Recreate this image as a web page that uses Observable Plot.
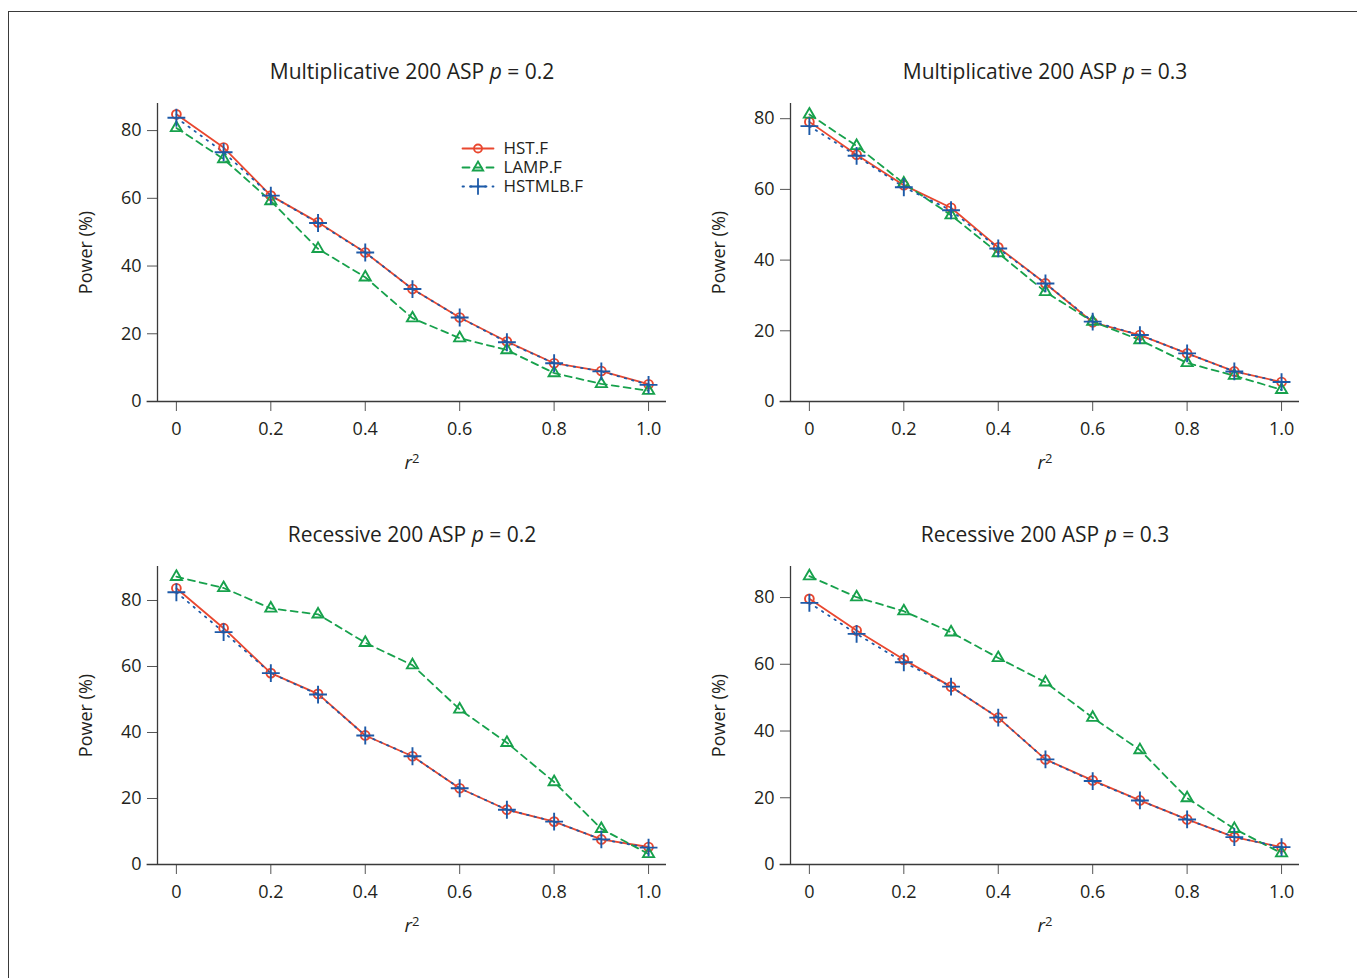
<!DOCTYPE html>
<html><head><meta charset="utf-8">
<script src="https://cdn.jsdelivr.net/npm/d3@7"></script>
<script src="https://cdn.jsdelivr.net/npm/@observablehq/plot@0.6"></script>
<style>
body{margin:0;background:#fff;width:1357px;height:978px;overflow:hidden;position:relative;font-family:"Open Sans",sans-serif}
#frame{position:absolute;left:8px;top:11px;width:1400px;height:1000px;border-left:1.5px solid #3a3a3a;border-top:1.5px solid #3a3a3a}
.panel{position:absolute}
</style></head><body>
<div id="frame"></div>
<script>
// ---------- data ----------
const r2 = [0, 0.1, 0.2, 0.3, 0.4, 0.5, 0.6, 0.7, 0.8, 0.9, 1.0];
const seriesNames = ["HST.F", "LAMP.F", "HSTMLB.F"];
const seriesColors = ["#e9472f", "#17a14c", "#1d5aa8"];
const seriesSymbols = ["circle", "triangle2", "plus"];
const seriesDash = [null, "7,5", "1.5,6"];

const xTicks = [0, 0.2, 0.4, 0.6, 0.8, 1.0];
const xTickLabels = ["0", "0.2", "0.4", "0.6", "0.8", "1.0"];
const yTicks = [0, 20, 40, 60, 80];

const panelTitles = [
  "Multiplicative 200 ASP p = 0.2",
  "Multiplicative 200 ASP p = 0.3",
  "Recessive 200 ASP p = 0.2",
  "Recessive 200 ASP p = 0.3"
];
const yLabel = "Power (%)";
const xLabel = "r²";

// Multiplicative p = 0.2
const multP2_HST    = [84.8, 75.0, 60.8, 52.9, 44.0, 33.2, 24.8, 17.7, 11.3, 9.0, 5.1];
const multP2_LAMP   = [80.8, 71.6, 59.2, 45.1, 36.7, 24.6, 18.7, 15.2, 8.4, 5.2, 3.2];
const multP2_HSTMLB = [83.8, 73.6, 60.8, 52.7, 44.0, 33.2, 24.8, 17.5, 11.3, 8.9, 4.9];
// Multiplicative p = 0.3
const multP3_HST    = [79.1, 69.8, 61.2, 54.8, 43.6, 33.4, 22.4, 18.8, 13.6, 8.5, 5.5];
const multP3_LAMP   = [81.2, 72.3, 61.7, 52.7, 42.0, 31.0, 22.6, 17.4, 10.9, 7.3, 3.3];
const multP3_HSTMLB = [77.9, 69.5, 60.6, 54.1, 43.3, 33.4, 22.6, 18.8, 13.6, 8.5, 5.5];
// Recessive p = 0.2
const recP2_HST     = [83.7, 71.6, 58.0, 51.7, 39.1, 32.8, 23.1, 16.6, 13.0, 7.6, 5.3];
const recP2_LAMP    = [87.2, 83.8, 77.6, 75.8, 67.2, 60.4, 47.0, 36.9, 25.0, 10.8, 3.2];
const recP2_HSTMLB  = [82.5, 70.4, 58.0, 51.5, 39.1, 32.8, 23.1, 16.6, 13.0, 7.6, 5.1];
// Recessive p = 0.3
const recP3_HST     = [79.6, 70.1, 61.4, 53.3, 44.0, 31.5, 25.2, 19.2, 13.5, 8.2, 5.2];
const recP3_LAMP    = [86.4, 80.1, 75.9, 69.6, 61.9, 54.6, 44.0, 34.3, 19.9, 10.7, 3.4];
const recP3_HSTMLB  = [78.4, 69.1, 60.6, 53.3, 44.0, 31.5, 25.0, 19.2, 13.5, 8.2, 5.2];

// ---------- layout ----------
const FONT = "'Open Sans', sans-serif";
const X_DOMAIN = [-0.04, 1.038];
const X_AXIS_START = -0.062;
const panels = [
  {title: panelTitles[0], values: [multP2_HST, multP2_LAMP, multP2_HSTMLB], ymax: 88.0, left: 0,   top: 40},
  {title: panelTitles[1], values: [multP3_HST, multP3_LAMP, multP3_HSTMLB], ymax: 84.3, left: 633, top: 40},
  {title: panelTitles[2], values: [recP2_HST, recP2_LAMP, recP2_HSTMLB],   ymax: 90.3, left: 0,   top: 503},
  {title: panelTitles[3], values: [recP3_HST, recP3_LAMP, recP3_HSTMLB],   ymax: 89.3, left: 633, top: 503}
];

function richTitle(svg, str) {
  d3.select(svg).selectAll("text").filter(function(){ return this.textContent === str; }).each(function(){
    const t = d3.select(this);
    const idx = str.indexOf(" p = ");
    t.text(null);
    t.append("tspan").text(str.slice(0, idx + 1));
    t.append("tspan").attr("font-style", "italic").text("p");
    t.append("tspan").text(str.slice(idx + 2));
  });
}
function richR2(svg) {
  d3.select(svg).selectAll("text").filter(function(){ return this.textContent === xLabel; }).each(function(){
    const t = d3.select(this);
    t.text(null);
    t.append("tspan").attr("font-style", "italic").text("r");
    t.append("tspan").attr("font-size", "13px").attr("dy", "-0.45em").text("2");
  });
}

function makePanel(cfg) {
  const rows = [];
  seriesNames.forEach((s, i) => cfg.values[i].forEach((v, j) => rows.push({series: s, r2: r2[j], power: v})));
  const seriesMarks = [];
  seriesNames.forEach((s, i) => {
    seriesMarks.push(Plot.line(rows, {filter: d => d.series === s, x: "r2", y: "power",
      stroke: seriesColors[i], strokeWidth: 1.8, strokeDasharray: seriesDash[i]}));
  });
  seriesNames.forEach((s, i) => {
    seriesMarks.push(Plot.dot(rows, {filter: d => d.series === s, x: "r2", y: "power",
      symbol: seriesSymbols[i], stroke: seriesColors[i], fill: "none", strokeWidth: 1.9,
      r: i === 0 ? 4.4 : i === 1 ? 5.3 : 5.8}));
  });
  const svg = Plot.plot({
    width: 680, height: 441,
    marginLeft: 157, marginRight: 14, marginTop: 63, marginBottom: 80,
    style: {fontFamily: FONT, fontSize: "18px", color: "#231f20", background: "transparent", overflow: "visible"},
    x: {domain: X_DOMAIN, ticks: xTicks, tickFormat: d => xTickLabels[xTicks.indexOf(d)], tickSize: 10, tickPadding: 11, label: null},
    y: {domain: [0, cfg.ymax], ticks: yTicks, tickSize: 10, tickPadding: 6, label: null},
    marks: [
      Plot.ruleY([0], {x1: X_AXIS_START, x2: X_DOMAIN[1], stroke: "#3a3a3a", strokeWidth: 1.3}),
      Plot.ruleX([X_DOMAIN[0]], {y1: 0, y2: cfg.ymax, stroke: "#3a3a3a", strokeWidth: 1.3}),
      ...seriesMarks,
      Plot.text([cfg.title], {frameAnchor: "top", dy: -31, fontSize: 21, textAnchor: "middle", lineAnchor: "middle", fill: "#231f20"}),
      Plot.text([yLabel], {frameAnchor: "left", dx: -71, rotate: -90, fontSize: 18, textAnchor: "middle", lineAnchor: "middle", fill: "#231f20"}),
      Plot.text([xLabel], {frameAnchor: "bottom", dy: 61, fontSize: 19, textAnchor: "middle", lineAnchor: "middle", fill: "#231f20"})
    ]
  });
  richTitle(svg, cfg.title);
  richR2(svg);
  d3.select(svg).selectAll("[aria-label='x-axis tick'], [aria-label='y-axis tick']").attr("stroke", "#555");
  const div = document.createElement("div");
  div.className = "panel";
  div.style.left = cfg.left + "px";
  div.style.top = cfg.top + "px";
  div.appendChild(svg);
  document.body.appendChild(div);
}
panels.forEach(makePanel);

// ---------- legend (in first panel) ----------
const legendRows = seriesNames.flatMap(s => [{series: s, pos: 0}, {series: s, pos: 1}]);
const legendMarks = [];
seriesNames.forEach((s, i) => {
  legendMarks.push(Plot.line(legendRows, {filter: d => d.series === s, x: "pos", y: "series",
    stroke: seriesColors[i], strokeWidth: 1.8, strokeDasharray: seriesDash[i]}));
  legendMarks.push(Plot.dot([s], {x: () => 0.5, y: d => d, symbol: seriesSymbols[i],
    stroke: seriesColors[i], fill: "none", strokeWidth: 1.8, r: i === 0 ? 4 : i === 1 ? 5 : 5.3}));
});
legendMarks.push(Plot.text(seriesNames, {x: () => 1, y: d => d, dx: 10, textAnchor: "start", lineAnchor: "middle", fontSize: 17, fill: "#231f20"}));
const legend = Plot.plot({
  width: 200, height: 80,
  style: {fontFamily: FONT, background: "transparent", overflow: "visible"},
  x: {domain: [0, 1], range: [22, 53], axis: null},
  y: {type: "point", domain: seriesNames, range: [20, 59], padding: 0, axis: null},
  marks: legendMarks
});
const ldiv = document.createElement("div");
ldiv.className = "panel";
ldiv.style.left = "440px";
ldiv.style.top = "127px";
ldiv.appendChild(legend);
document.body.appendChild(ldiv);
</script>
</body></html>
